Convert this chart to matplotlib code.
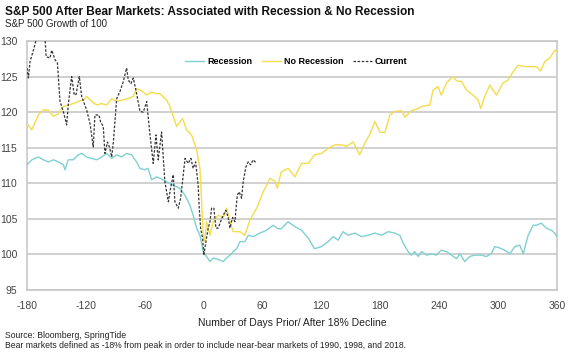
import matplotlib
matplotlib.use("Agg")
import matplotlib.pyplot as plt
from matplotlib import font_manager as fm

# ---------------- data ----------------
rec_days = [-180, -175, -168.5, -163.4, -158.3, -153, -148, -143, -141.3, -138, -133, -127.7, -124.3,
            -119.2, -114, -109, -104, -98.8, -93.7, -88.6, -83.6, -78.5, -73.4, -68.3, -65, -60,
            -56.7, -53, -48, -42.8, -37.7, -31, -24.2, -19, -14, -10.7, -7.2, -3.8, -0.5, 3, 6.4,
            9.8, 14.8, 20, 23.4, 26.8, 30.2, 33.6, 37, 42, 45.5, 50.5, 57.3, 64, 70.8, 75.8, 79,
            86, 93, 99.7, 106.5, 113, 120, 126.8, 132, 137, 142, 147, 154, 160.8, 167.6, 174.4,
            181.2, 188, 194.7, 199.8, 203.2, 208.3, 211.7, 215, 218.5, 222, 227, 232, 237, 242,
            247.4, 252.5, 257.6, 261, 266, 271, 276, 283, 288, 293, 296.6, 301.7, 306.8, 312,
            317, 322, 325.6, 330.6, 335.7, 339, 344, 349, 354.2, 357.7, 360]
rec_vals = [112.6, 113.3, 113.7, 113.3, 113.0, 113.3, 113.0, 112.6, 111.9, 113.3, 113.3, 114.0, 114.2,
            113.7, 113.5, 113.3, 113.7, 114.2, 113.5, 114.0, 113.7, 114.2, 114.0, 113.0, 112.1, 111.9,
            112.1, 110.5, 110.9, 110.6, 110.2, 109.7, 109.3, 108.3, 106.9, 105.5, 103.7, 102.7, 100.4, 99.7, 99.0,
            99.5, 99.3, 99.0, 99.5, 99.9, 100.4, 100.8, 101.8, 101.8, 102.7, 102.5, 103.0, 103.4, 104.1, 103.6, 103.6,
            104.6, 103.9, 103.4, 102.3, 100.8, 101.1, 101.8, 102.5, 102.0, 103.2, 102.7, 103.0, 102.5, 102.7, 103.0,
            102.7, 103.2, 103.0, 102.7, 101.6, 100.4, 99.9, 100.4, 99.7, 100.4, 99.9, 100.1, 99.9, 100.6,
            100.4, 99.9, 99.4, 100.1, 99.0, 99.7, 99.9, 99.9, 99.7, 100.1, 101.1, 100.9, 100.6, 100.1,
            101.1, 101.3, 100.1, 102.7, 104.1, 104.1, 104.4, 103.7, 103.4, 103.0, 102.5]

norec_days = [-180, -175.2, -168.5, -163.4, -158.3, -153.2, -148, -143, -138, -133, -127.7, -122.7,
              -119.2, -114, -109, -104, -98.8, -93.7, -88.6, -83.6, -76.8, -71.8, -68.3, -63.2, -58.1,
              -53, -48, -44.6, -37.7, -34.4, -31, -27.6, -21.5, -17.4, -12.3, -7.2, -3.8, -2.1, -0.5, 1,
              3, 6.4, 9.8, 14.8, 20, 23.4, 26.8, 30.2, 37, 42, 47, 54, 60.7, 67.5, 72.5, 75, 79, 86, 93,
              99.7, 106.5, 113, 120, 126.8, 133.6, 140.5, 145.5, 152.3, 159, 164, 169, 174.4, 179.5,
              184.6, 189.7, 194.7, 201.5, 205, 211.7, 218.5, 222, 230.4, 233.8, 238.8, 242, 247.4, 254,
              257.6, 262.7, 267.8, 274.5, 279.6, 282.3, 286.4, 291.5, 298.3, 305, 310, 315.4, 320.5,
              327.3, 332.4, 339, 343.4, 347.5, 352.6, 357.7, 360]
norec_vals = [118.4, 117.5, 119.6, 120.3, 120.3, 119.4, 119.8, 120.8, 121.0, 121.2, 121.5, 121.7,
              122.2, 121.5, 121.0, 121.2, 121.0, 121.9, 121.5, 121.7, 121.9, 122.2, 123.3, 123.0, 122.4,
              122.8, 122.6, 122.6, 121.7, 120.8, 119.4, 118.0, 119.1, 117.5, 116.8, 114.7, 112.1, 107.4, 102.7, 101.8,
              104.6, 102.7, 104.6, 105.5, 105.2, 106.5, 104.6, 103.2, 103.2, 102.7, 104.8, 106.5, 108.8, 110.7, 110.3, 109.3, 111.6, 112.1, 110.9,
              112.8, 112.8, 114.0, 114.2, 114.9, 115.4, 115.4, 115.2, 115.8, 114.0, 115.6, 116.8, 118.7, 117.2,
              117.1, 119.6, 120.1, 120.2, 119.3, 120.2, 120.5, 120.8, 121.0, 123.1, 123.6, 122.4, 124.1, 125.0,
              124.4, 124.3, 123.1, 122.4, 121.7, 120.5, 122.2, 123.8, 122.4, 124.1, 124.5, 125.7, 126.6,
              126.4, 126.4, 126.4, 125.8, 127.1, 127.6, 128.7, 128.5]

cur_days = [-180, -178.6, -176.9, -173.5, -170, -166, -161.7, -160.5, -156.6, -154.8, -151.5, -149,
            -146.4, -143, -139.6, -138, -134.5, -131.8, -130, -126.7, -124.3, -119.2, -115.8, -112.5,
            -110.8, -106.7, -105, -102.3, -100.6, -98, -95.8, -93.7, -92, -88.6, -85.3, -81.9, -78.5,
            -76.8, -74.1, -71.7, -68.3, -64.9, -61.5, -58.1, -54.7, -51.4, -48.6, -46.3, -42.9, -41,
            -39.5, -37.7, -36, -33.7, -31, -29.3, -25.9, -23.5, -20.8, -19, -15.7, -13, -10.7, -8.2,
            -5.6, -4.5, -3.1, -1.1, 0.2, 2.3, 4.6, 6.4, 8.1, 10.4, 12.5, 14.8, 17.2, 19.9, 22.6, 25,
            26.7, 29.5, 31.8, 34.2, 36.2, 38.6, 40.3, 43, 45.4, 47.8, 50.5, 53.9]
cur_vals = [126.2, 124.8, 127.1, 128.7, 130.5, 131.0, 130.5, 127.8, 127.6, 128.7, 127.4, 126.9,
            121.5, 120.1, 118.2, 121.0, 125.0, 122.4, 122.5, 125.0, 122.2, 120.3, 118.4, 115.1,
            119.6, 119.6, 118.6, 118.0, 114.2, 115.8, 115.0, 113.7, 115.8, 121.9, 122.9, 124.3, 126.2,
            124.5, 124.0, 124.8, 122.6, 120.1, 120.0, 121.5, 116.8, 112.8, 116.8, 113.3, 117.2, 113.3,
            110.2, 108.8, 107.4, 109.3, 111.2, 107.4, 106.5, 107.9, 111.2, 113.5, 112.8, 113.5, 112.1, 113.0,
            109.7, 106.5, 103.7, 102.3, 99.9, 101.8, 103.7, 104.6, 106.5, 106.5, 103.7, 103.7, 104.6, 105.5, 106.2, 105.2,
            103.7, 105.2, 104.6, 108.3, 108.8, 107.9, 110.2, 112.3, 113.0, 112.6, 113.3, 112.8]

x_ticks = [-180, -120, -60, 0, 60, 120, 180, 240, 300, 360]
y_ticks = [95, 100, 105, 110, 115, 120, 125, 130]

series_labels = ["Recession", "No Recession", "Current"]
title = "S&P 500 After Bear Markets: Associated with Recession & No Recession"
subtitle = "S&P 500 Growth of 100"
xlabel = "Number of Days Prior/ After 18% Decline"
notes = ["Source: Bloomberg, SpringTide",
         "Bear markets defined as -18% from peak in order to include near-bear markets of 1990, 1998, and 2018."]

# ---------------- styling ----------------
installed = {f.name for f in fm.fontManager.ttflist}
narrow = "Liberation Sans Narrow" if "Liberation Sans Narrow" in installed else "Liberation Sans"
plt.rcParams["font.family"] = ["Liberation Sans", "DejaVu Sans"]

c_rec = "#7fd0d2"
c_norec = "#f6dc4a"
c_cur = "#333333"
grid_c = "#c8c8c8"

fig = plt.figure(figsize=(5.69, 3.54), dpi=100)
ax = fig.add_axes([27 / 569, 1 - 290 / 354, (557 - 27) / 569, (290 - 41) / 354])

ax.plot(rec_days, rec_vals, color=c_rec, lw=1.0, label=series_labels[0], zorder=3)
ax.plot(norec_days, norec_vals, color=c_norec, lw=1.0, label=series_labels[1], zorder=3)
ax.plot(cur_days, cur_vals, color=c_cur, lw=0.9, ls=(0, (2.0, 1.3)), label=series_labels[2], zorder=4)

ax.set_xlim(-180, 360)
ax.set_ylim(95, 130)
ax.set_xticks(x_ticks)
ax.set_yticks(y_ticks)
ax.set_xticklabels([str(t) for t in x_ticks], fontfamily=narrow, fontsize=7.5, color="#444444")
ax.set_yticklabels([str(t) for t in y_ticks], fontfamily=narrow, fontsize=7.5, color="#444444")
ax.tick_params(length=0, pad=8)
ax.tick_params(axis="y", pad=7)
ax.yaxis.grid(True, color=grid_c, lw=1.2)
ax.set_axisbelow(True)
for s in ax.spines.values():
    s.set_color(grid_c)
    s.set_linewidth(1.2)

ax.set_xlabel(xlabel, fontsize=7.5, color="#222222", labelpad=5)

leg = ax.legend(loc="center", bbox_to_anchor=(0.508, 0.916), ncol=3, frameon=False,
                prop={"family": narrow, "weight": "bold", "size": 6.5},
                handlelength=2.1, handletextpad=0.3, columnspacing=1.1)

fig.text(5 / 569, 1 - 12 / 354, title, fontsize=8.6, fontweight="bold", va="center", ha="left", color="#111111")
fig.text(5 / 569, 1 - 24 / 354, subtitle, fontsize=7, va="center", ha="left", color="#222222")
fig.text(5 / 569, 1 - 335 / 354, notes[0], fontsize=6.2, va="center", ha="left", color="#222222")
fig.text(5 / 569, 1 - 346 / 354, notes[1], fontsize=6.2, va="center", ha="left", color="#222222")

fig.savefig("out.png", dpi=100)
